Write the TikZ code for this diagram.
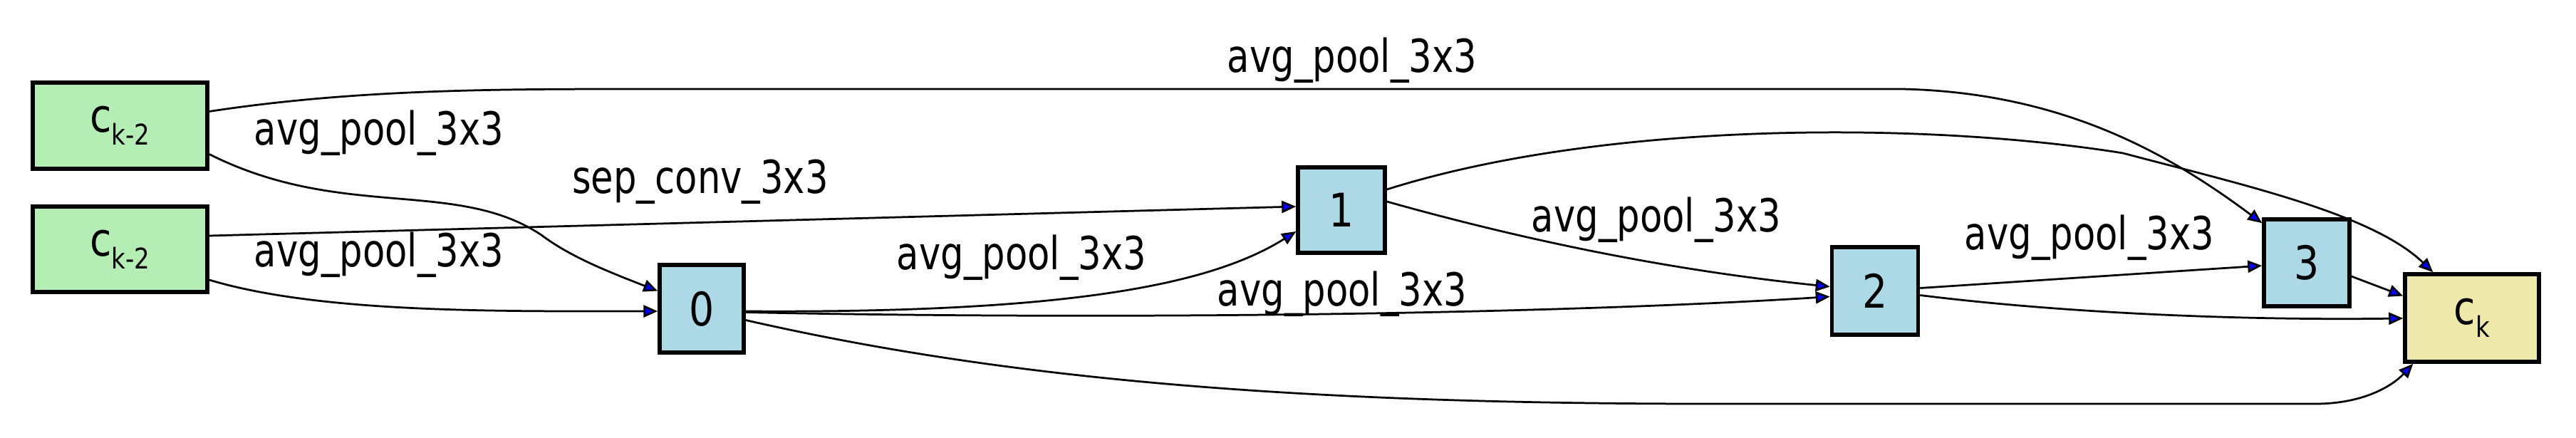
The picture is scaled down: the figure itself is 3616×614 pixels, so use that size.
\documentclass[tikz,border=0pt]{standalone}
\usepackage{fontspec}
\setmainfont{DejaVu Sans}
\usetikzlibrary{arrows.meta,calc}
\definecolor{ingreen}{HTML}{B4EEB4}
\definecolor{opblue}{HTML}{ADD8E6}
\definecolor{outyel}{HTML}{EEE8AA}
\begin{document}
\begin{tikzpicture}[x=0.2pt,y=-0.2pt,
  box/.style={draw,line width=1.1pt,inner sep=0pt,font=\fontsize{13}{15}\selectfont\addfontfeatures{FakeStretch=0.85}},
  e/.style={line width=0.55pt,-{Triangle[length=4pt,width=3.4pt,fill=blue]}},
  lbl/.style={font=\fontsize{12.8}{14}\selectfont\addfontfeatures{FakeStretch=0.8}}]
\useasboundingbox (0,0) rectangle (3616,614);
\newcommand{\sbs}[1]{\raisebox{-0.5ex}{\fontsize{8}{9}\selectfont #1}}
\node[box,fill=ingreen,minimum width=49pt,minimum height=24.2pt] (c1) at (168.5,176.5) {c\sbs{k-2}};
\node[box,fill=ingreen,minimum width=49pt,minimum height=24pt] (c2) at (168.5,350) {c\sbs{k-2}};
\node[box,fill=opblue,minimum width=23.6pt,minimum height=24.6pt] (n0) at (985,433.5) {0};
\node[box,fill=opblue,minimum width=24.4pt,minimum height=24pt] (n1) at (1883,295) {1};
\node[box,fill=opblue,minimum width=24.2pt,minimum height=24.6pt] (n2) at (2632,408.5) {2};
\node[box,fill=opblue,minimum width=24pt,minimum height=24.4pt] (n3) at (3238,369) {3};
\node[box,fill=outyel,minimum width=37.6pt,minimum height=24.6pt] (ck) at (3470,446.5) {c\sbs{k}};
% c1 -> 0
\draw[e] ($(c1.east)+(0,40)$) .. controls (480,310) and (640,250) .. (760,330) .. controls (800,360) and (850,380) .. ($(n0.west)+(0,-25)$);
% c1 -> 3
\draw[e] ($(c1.east)+(0,-20)$) .. controls (500,125) and (700,125) .. (900,125) -- (2670,125) .. controls (2900,130) and (3050,220) .. ($(n3.north west)+(0,8)$);
% c2 -> 1
\draw[e] ($(c2.east)+(0,-19)$) -- ($(n1.west)+(0,-5)$);
% c2 -> 0
\draw[e] ($(c2.east)+(0,43)$) .. controls (450,440) and (700,437) .. ($(n0.west)+(0,3.5)$);
% 0 -> 1
\draw[e] ($(n0.east)+(0,3.5)$) .. controls (1500,440) and (1700,400) .. ($(n1.west)+(0,30)$);
% 0 -> 2
\draw[e] ($(n0.east)+(0,5)$) .. controls (1600,450) and (2200,440) .. ($(n2.west)+(0,8)$);
% 0 -> ck
\draw[e] ($(n0.east)+(0,16)$) .. controls (1400,530) and (1800,567) .. (2400,567) -- (3250,567) .. controls (3320,567) and (3360,540) .. ($(ck.south west)+(14,0)$);
% 1 -> 2
\draw[e] ($(n1.east)+(0,-12)$) .. controls (2150,340) and (2350,380) .. ($(n2.west)+(0,-6)$);
% 1 -> ck
\draw[e] ($(n1.east)+(0,-29)$) .. controls (2250,170) and (2700,170) .. (2980,215) .. controls (3150,260) and (3330,300) .. ($(ck.north west)+(42,0)$);
% 2 -> 3
\draw[e] ($(n2.east)+(0,-4)$) -- ($(n3.west)+(0,4)$);
% 2 -> ck
\draw[e] ($(n2.east)+(0,6)$) .. controls (2900,440) and (3150,450) .. ($(ck.west)+(0,0.5)$);
% 3 -> ck
\draw[e] ($(n3.east)+(0,19)$) -- ($(ck.west)+(0,-31)$);
% labels
\node[lbl] (l1) at (532,187) {avg\_pool\_3x3};
\node[lbl] (l2) at (1898,85) {avg\_pool\_3x3};
\node[lbl] (l3) at (983,255) {sep\_conv\_3x3};
\node[lbl] (l4) at (532,358) {avg\_pool\_3x3};
\node[lbl] (l5) at (1434,362) {avg\_pool\_3x3};
\node[lbl] (l6) at (1884,413) {avg\_pool\_3x3};
\node[lbl] (l7) at (2325,309) {avg\_pool\_3x3};
\node[lbl] (l8) at (2933,334) {avg\_pool\_3x3};
\end{tikzpicture}
\end{document}
